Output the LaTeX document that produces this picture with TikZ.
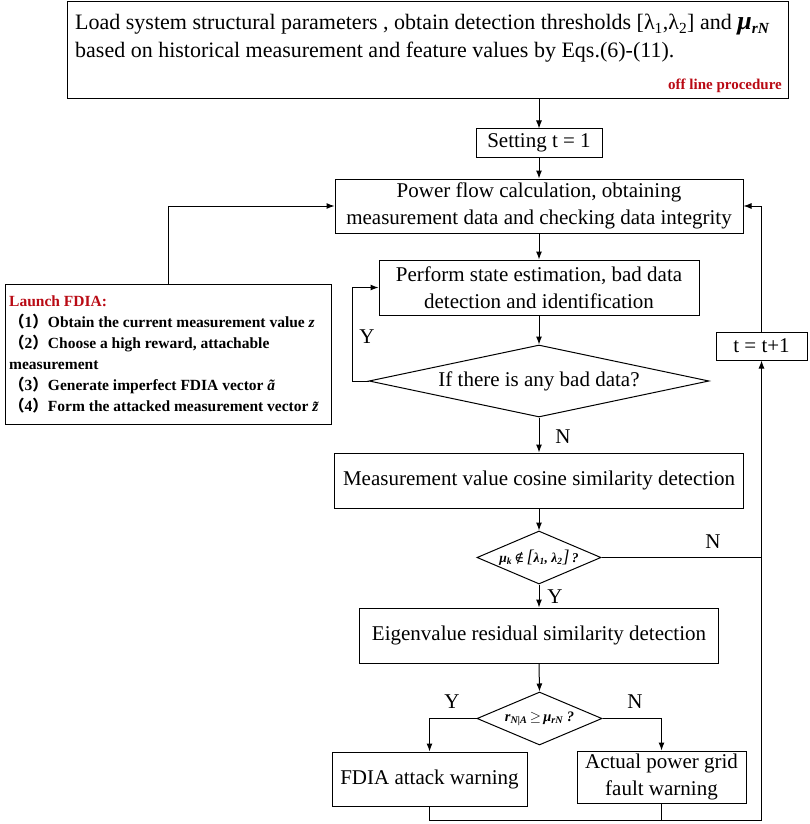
\documentclass[tikz,border=0pt]{standalone}
\usepackage{fontspec}
\setmainfont{Liberation Serif}
\newfontfamily\cjkfont{Noto Sans CJK SC}
\newfontfamily\symfont{DejaVu Serif}
\usetikzlibrary{arrows.meta,shapes.geometric}
\definecolor{dred}{RGB}{185,10,20}
\newcommand{\mainsz}{\fontsize{21}{27}\selectfont}
\newcommand{\topsz}{\fontsize{22}{28}\selectfont}
\newcommand{\smsz}{\fontsize{15.5}{21}\selectfont}
\newcommand{\fwl}{{\cjkfont （}}
\newcommand{\fwr}{{\cjkfont ）}}
\newcommand{\bigbr}[1]{{\fontsize{18}{18}\selectfont\mdseries #1}}
\begin{document}
\begin{tikzpicture}[x=1pt,y=-1pt,
  box/.style={draw, line width=1pt, inner sep=0pt, align=center, font=\mainsz},
  dia/.style={draw, line width=1pt, shape=diamond, inner sep=0pt},
  arr/.style={line width=1pt, -{Latex[length=8pt,width=6pt]}},
  ln/.style={line width=1pt},
  dtxt/.style={inner sep=0pt, font=\fontsize{13.5}{13.5}\selectfont\bfseries\itshape},
  yn/.style={font=\fontsize{21}{21}\selectfont, inner sep=0pt}]
\useasboundingbox (0,0) rectangle (809,824);
% boxes
\node[box, minimum width=721pt, minimum height=97pt] (top) at (427.5,50.5) {};
\node[anchor=base west, inner sep=0pt, font=\topsz] (t1) at (75,30)
  {Load system structural parameters , obtain detection thresholds [λ\textsubscript{1},λ\textsubscript{2}] and \textbf{\textit{\fontsize{26}{26}\selectfont μ}}\textsubscript{\textbf{\textit{rN}}}};
\node[anchor=base west, inner sep=0pt, font=\topsz] (t2) at (75,58)
  {based on historical measurement and feature values by Eqs.(6)-(11).};
\node[anchor=base east, inner sep=0pt, font=\fontsize{15}{15}\selectfont\bfseries, text=dred] (off) at (782,90) {off line procedure};
\node[box, minimum width=126pt, minimum height=28pt] (set) at (539,143) {Setting t = 1};
\node[box, minimum width=408pt, minimum height=54pt] (pf) at (539,206) {Power flow calculation, obtaining\\measurement data and checking data integrity};
\node[box, minimum width=320pt, minimum height=55pt] (pe) at (539,287.5) {Perform state estimation, bad data\\detection and identification};
\node[dia, minimum width=340pt, minimum height=72pt, aspect=4.72] (d1) at (539,381) {};
\node[inner sep=0pt, font=\mainsz] (d1t) at (d1.center) {If there is any bad data?};
\node[box, minimum width=409pt, minimum height=55pt] (mv) at (539,480.5) {Measurement value cosine similarity detection};
\node[dia, minimum width=124pt, minimum height=53pt, aspect=2.34] (d2) at (539,557.5) {};
\node[dtxt] (d2t) at (d2.center) {μ\textsubscript{k}\,{\symfont\mdseries\upshape ∉}\,\bigbr{[}λ\textsubscript{1}, λ\textsubscript{2}\bigbr{]}\,?};
\node[box, minimum width=359pt, minimum height=55pt] (ev) at (539,635.5) {Eigenvalue residual similarity detection};
\node[dia, minimum width=125pt, minimum height=53pt, aspect=2.36] (d3) at (539.5,718.5) {};
\node[dtxt, font=\fontsize{14.5}{14.5}\selectfont\bfseries\itshape] (d3t) at (d3.center) {r\textsubscript{N|A}\,$\geq$\,μ\textsubscript{rN} ?};
\node[box, minimum width=195pt, minimum height=54pt] (fd) at (429.5,779) {FDIA attack warning};
\node[box, minimum width=169pt, minimum height=52pt] (ap) at (661.5,777) {Actual power grid\\fault warning};
\node[box, minimum width=91pt, minimum height=28pt] (tt) at (761.5,346) {t = t+1};
\node[box, minimum width=326pt, minimum height=140pt] (la) at (168,354) {};
\node[anchor=north west, inner sep=0pt, align=left, font=\smsz\bfseries] (lat) at (9,296)
  {\textcolor{dred}{Launch FDIA:}\\
   \fwl 1\fwr Obtain the current measurement value \textit{z}\\
   \fwl 2\fwr Choose a high reward, attachable\\
   measurement\\
   \fwl 3\fwr Generate imperfect FDIA vector \textit{ã}\\
   \fwl 4\fwr Form the attacked measurement vector \textit{z̃}};
% connectors
\draw[arr] (top.south -| set.north) -- (set.north);
\draw[arr] (set.south) -- (pf.north);
\draw[arr] (pf.south) -- (pe.north);
\draw[arr] (pe.south) -- (d1.north);
\draw[arr] (d1.south) -- (mv.north);
\draw[arr] (mv.south) -- (d2.north);
\draw[arr] (d2.south) -- (ev.north);
\draw[arr] (ev.south) -- (d3.north);
\draw[arr] (d1.west) -- ++(-16,0) |- (pe.west);
\draw[arr] (la.north) |- (pf.west);
\draw[arr] (tt.north) |- (pf.east);
\draw[arr] (d3.west) -| (fd.north);
\draw[arr] (d3.east) -| (ap.north);
\coordinate (b) at (761.5,820);
\draw[ln] (fd.south) |- (b);
\draw[ln] (ap.south) -- (ap.south |- b);
\draw[arr] (b) -- (tt.south);
\draw[ln] (d2.east) -- (d2.east -| tt.south);
% labels
\node[yn] (y1) at (367,337) {Y};
\node[yn] (n1) at (563,437) {N};
\node[yn] (y2) at (555,597) {Y};
\node[yn] (n2) at (713,542) {N};
\node[yn] (y3) at (452,702) {Y};
\node[yn] (n3) at (635,702) {N};
\end{tikzpicture}
\end{document}
